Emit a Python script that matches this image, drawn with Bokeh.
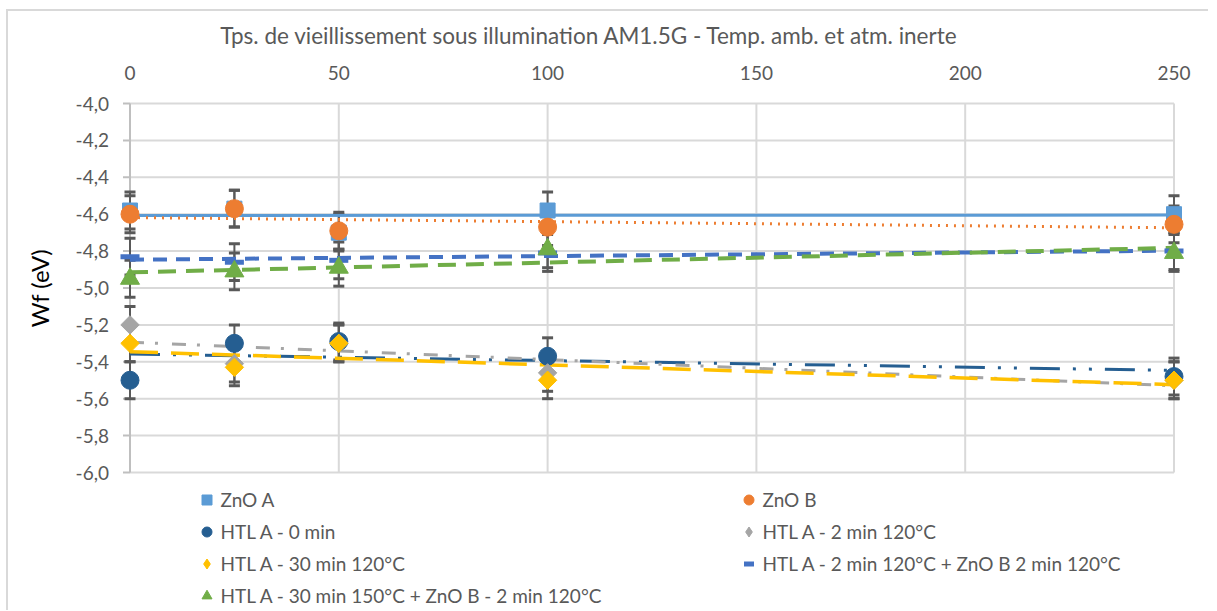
import numpy as np
from bokeh.plotting import figure
from bokeh.models import (ColumnDataSource, Whisker, TeeHead, Legend, LegendItem, Range1d)
from bokeh.core.properties import value
from bokeh.embed import file_html
from bokeh.resources import INLINE

# ---------------- data ----------------
x_ticks = [0, 50, 100, 150, 200, 250]
y_ticks = [-6.0, -5.8, -5.6, -5.4, -5.2, -5.0, -4.8, -4.6, -4.4, -4.2, -4.0]

x_title = "Tps. de vieillissement sous illumination AM1.5G - Temp. amb. et atm. inerte"
y_title = "Wf (eV)"

aging_time = [0, 25, 50, 100, 250]

zno_a = [-4.58, -4.57, -4.70, -4.58, -4.60]
zno_b = [-4.60, -4.57, -4.69, -4.67, -4.655]
htl_0min = [-5.50, -5.30, -5.29, -5.37, -5.48]
htl_2min = [-5.20, -5.41, -5.30, -5.46, -5.50]
htl_30min = [-5.30, -5.43, -5.30, -5.50, -5.50]
htl_2min_znob = [-4.83, -4.86, -4.85, -4.81, -4.80]
htl_30min150_znob = [-4.95, -4.91, -4.89, -4.79, -4.81]

err_bar = [0.1, 0.1, 0.1, 0.1, 0.1]

names = ["ZnO A", "ZnO B", "HTL A - 0 min", "HTL A - 2 min 120°C",
         "HTL A - 30 min 120°C", "HTL A - 2 min 120°C + ZnO B 2 min 120°C",
         "HTL A - 30 min 150°C + ZnO B - 2 min 120°C"]
values = [zno_a, zno_b, htl_0min, htl_2min, htl_30min, htl_2min_znob, htl_30min150_znob]

# ---------------- styles ----------------
FONT = "Lato"
colors = ["#5B9BD5", "#ED7D31", "#255E91", "#A5A5A5", "#FFC000", "#4472C4", "#70AD47"]
markers = ["square", "circle", "circle", "square", "square", "dash", "triangle"]
legend_markers = ["square", "circle", "circle", "diamond", "diamond", "dash", "triangle"]
msizes = [15, 18, 18, 13, 13, 19, 19]
angles = [0, 0, 0, np.pi / 4, np.pi / 4, 0, 0]
trend_dash = ["solid", "2 6", "30 13 3 13 3 13", "14 11 3 14", "28 13", "14 9", "18 10"]
trend_width = [3, 3, 3, 3, 3.5, 4, 4]
grid_col = "#D9D9D9"
axis_col = "#BFBFBF"
txt_col = "#595959"
TITLE_X = 110  # horizontal centre of the axis title (chart-area centre), in x units

# screen scale: 4.176 px per x unit, 184.5 px per y unit
PX_X, PX_Y = 4.176, 184.5
FW, FH = 1200, 599
x_left_px = 129.5 - 8   # x = 0 position inside the canvas
y_top_px = 103 - 11     # y = -4.0 position inside the canvas
x_lo = -x_left_px / PX_X
y_hi = y_ticks[-1] + y_top_px / PX_Y

p = figure(frame_width=FW, frame_height=FH,
           x_range=Range1d(x_lo, x_lo + FW / PX_X),
           y_range=Range1d(y_hi - FH / PX_Y, y_hi),
           x_axis_location=None, y_axis_location=None,
           output_backend="svg", toolbar_location=None,
           min_border_left=0, min_border_right=0, min_border_top=0, min_border_bottom=0,
           background_fill_color="white", border_fill_color="white", outline_line_color=None)
p.title = None
p.styles = {"border-left": "2px solid #D9D9D9", "border-top": "2px solid #D9D9D9",
            "margin-left": "6px", "margin-top": "9px"}
p.grid.visible = False

# gridlines from tick arrays
p.segment(x0=[x_ticks[0]] * len(y_ticks), x1=[x_ticks[-1]] * len(y_ticks), y0=y_ticks, y1=y_ticks,
          line_color=grid_col, line_width=2, level="underlay")
p.segment(x0=x_ticks[1:], x1=x_ticks[1:], y0=[y_ticks[0]] * (len(x_ticks) - 1),
          y1=[y_ticks[-1]] * (len(x_ticks) - 1),
          line_color=grid_col, line_width=2, level="underlay")

# x axis labels (top) and title
nx = len(x_ticks)
p.text(x=x_ticks, y=[y_ticks[-1]] * nx, text=[str(t) for t in x_ticks], y_offset=-31,
       text_align="center", text_baseline="middle", text_font=value(FONT),
       text_font_size="19px", text_color=txt_col)
p.text(x=[TITLE_X], y=[y_ticks[-1]], text=[x_title], y_offset=-68,
       text_align="center", text_baseline="middle", text_font=value(FONT),
       text_font_size="22.5px", text_color=txt_col)

# y axis (drawn by hand at x = 0)
ny = len(y_ticks)
p.segment(x0=[x_ticks[0]], x1=[x_ticks[0]], y0=[y_ticks[0]], y1=[y_ticks[-1]],
          line_color=axis_col, line_width=2, level="underlay")
p.ray(x=[x_ticks[0]] * ny, y=y_ticks, length=7, length_units="screen", angle=np.pi,
      line_color=axis_col, line_width=2, level="underlay")
y_labels = [f"{v:.1f}".replace(".", ",") for v in y_ticks]
p.text(x=[x_ticks[0]] * ny, y=y_ticks, text=y_labels, x_offset=-21,
       text_align="right", text_baseline="middle", text_font=value(FONT),
       text_font_size="19px", text_color=txt_col)
p.text(x=[x_ticks[0]], y=[(y_ticks[0] + y_ticks[-1]) / 2], text=[y_title], x_offset=-91,
       angle=np.pi / 2, text_align="center", text_baseline="middle", text_font=value(FONT),
       text_font_size="24px", text_color="#000000")

# trendlines (linear fits of each series)
trend_x = [x_ticks[0], x_ticks[-1]]
for vals, c, d, w in zip(values, colors, trend_dash, trend_width):
    coef = np.polyfit(aging_time, vals, 1)
    p.line(trend_x, np.polyval(coef, trend_x), line_color=c, line_dash=d, line_width=w)

# error bars + markers
renderers = []
legend_proxies = []
for vals, c, m, lm, s, a in zip(values, colors, markers, legend_markers, msizes, angles):
    src = ColumnDataSource(dict(x=aging_time, y=vals,
                                upper=np.add(vals, err_bar), lower=np.subtract(vals, err_bar)))
    wk = Whisker(source=src, base="x", upper="upper", lower="lower", dimension="height",
                 line_color=txt_col, line_width=2, level="underlay",
                 upper_head=TeeHead(size=11, line_color=txt_col, line_width=3),
                 lower_head=TeeHead(size=11, line_color=txt_col, line_width=3))
    p.add_layout(wk)
    if m == "dash":
        r = p.scatter("x", "y", source=src, marker=m, size=s, angle=a,
                      line_color=c, line_width=5)
    else:
        r = p.scatter("x", "y", source=src, marker=m, size=s, angle=a,
                      fill_color=c, line_color=c)
    renderers.append(r)
    if lm != m:
        # legend-only proxy glyph (no visible data point)
        proxy = p.scatter(x=[np.nan], y=[np.nan], marker=lm, fill_color=c, line_color=c)
        legend_proxies.append(proxy)
    else:
        legend_proxies.append(r)


def make_legend(idx, loc):
    lg = Legend(items=[LegendItem(label=names[i], renderers=[legend_proxies[i]]) for i in idx],
                location=loc, orientation="vertical")
    lg.label_text_font = FONT
    lg.label_text_font_size = "19px"
    lg.label_text_color = txt_col
    lg.glyph_width = 25
    lg.glyph_height = 25
    lg.label_height = 25
    lg.label_standoff = 2
    lg.spacing = 7
    lg.padding = 0
    lg.margin = 0
    lg.border_line_color = None
    lg.background_fill_alpha = 0
    return lg


p.add_layout(make_legend([0, 2, 4, 6], (185.5, 2.5)))
p.add_layout(make_legend([1, 3, 5], (727.5, 34.5)))

open("out.html", "w").write(file_html(p, INLINE))
